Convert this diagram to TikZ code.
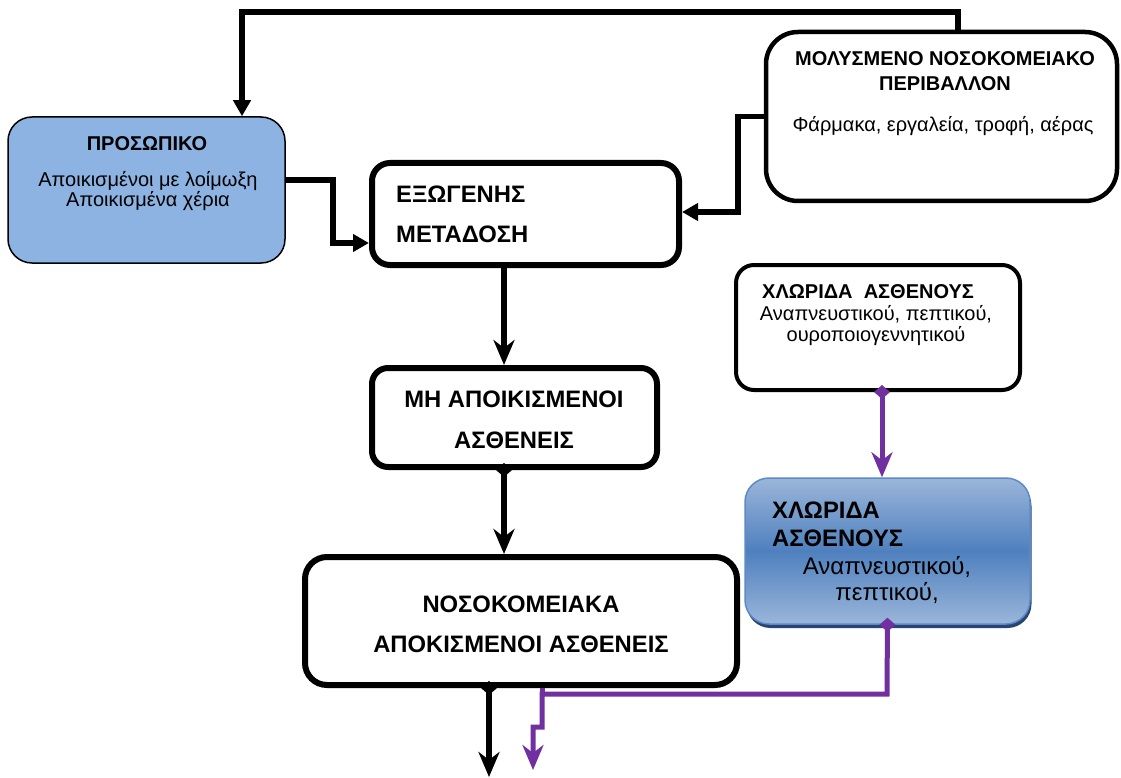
\documentclass[tikz,border=0pt]{standalone}
\usepackage{fontspec}
\setmainfont{Liberation Sans}
\usetikzlibrary{arrows.meta,shadows,calc}
\definecolor{purp}{HTML}{7030A0}
\definecolor{prosblue}{HTML}{8DB3E2}
\definecolor{gradlight}{HTML}{9AB6DA}
\definecolor{graddark}{HTML}{4F80BE}
\definecolor{gradborder}{HTML}{5B8AC6}
\definecolor{shadowblue}{HTML}{2A4670}
\begin{document}
\begin{tikzpicture}[x=1pt,y=-1pt,
  box/.style={draw=black, inner sep=0pt, fill=white},
  txt/.style={inner sep=0pt, anchor=base},
  txtl/.style={inner sep=0pt, anchor=base west},
  bigb/.style={font=\fontsize{23.8}{28}\selectfont\bfseries},
  midb/.style={font=\fontsize{20}{24}\selectfont\bfseries},
  body/.style={font=\fontsize{20}{24}\selectfont},
  bodyl/.style={font=\fontsize{24}{28}\selectfont},
  blk/.style={draw=black, line width=5.5pt},
  prp/.style={draw=purp, line width=5pt},
  downtip/.tip={Stealth[length=25pt,width=21pt,inset=8pt]},
  sidetip/.tip={Triangle[length=16pt,width=17pt]},
  dia/.tip={Diamond[length=14pt,width=16pt]}
]
\useasboundingbox (0,0) rectangle (1121,778);

% boxes
\node[box, line width=1.5pt, fill=prosblue, rounded corners=24pt,
  minimum width=277pt, minimum height=146pt] (pros) at (146.5,190) {};
\node[box, line width=6pt, rounded corners=18pt,
  minimum width=307pt, minimum height=102pt] (exo) at (525.5,214) {};
\node[box, line width=4.5pt, rounded corners=32pt,
  minimum width=351pt, minimum height=169pt] (mol) at (941.5,116.5) {};
\node[box, line width=6pt, rounded corners=16pt,
  minimum width=285pt, minimum height=99pt] (mh) at (514.5,417.5) {};
\node[box, line width=4pt, rounded corners=18pt,
  minimum width=284pt, minimum height=125pt] (chla) at (878,327.5) {};
\node[draw=gradborder, line width=1.5pt, inner sep=0pt, rounded corners=24pt,
  top color=gradlight, bottom color=gradlight, middle color=graddark,
  drop shadow={shadow xshift=1.5pt, shadow yshift=-4pt, fill=shadowblue, opacity=1},
  minimum width=285pt, minimum height=146pt] (chlb) at (887.5,551) {};
\node[box, line width=6pt, rounded corners=22pt,
  minimum width=432pt, minimum height=128pt] (noso) at (521,621) {};

% texts
\node[txt, midb] (prost) at (147,151) {ΠΡΟΣΩΠΙΚΟ};
\node[txt, body] (prosa) at (148,187) {Αποικισμένοι με λοίμωξη};
\node[txt, body] (prosb) at (148,207) {Αποικισμένα χέρια};

\node[txtl, bigb] (exoa) at (396,202) {ΕΞΩΓΕΝΗΣ};
\node[txtl, bigb] (exob) at (396,242) {ΜΕΤΑΔΟΣΗ};

\node[txt, midb] (mola) at (945,66) {ΜΟΛΥΣΜΕΝΟ ΝΟΣΟΚΟΜΕΙΑΚΟ};
\node[txt, midb] (molb) at (945,91) {ΠΕΡΙΒΑΛΛΟΝ};
\node[txt, body] (molc) at (943,132) {Φάρμακα, εργαλεία, τροφή, αέρας};

\node[txt, bigb] (mha) at (514,407) {ΜΗ ΑΠΟΙΚΙΣΜΕΝΟΙ};
\node[txt, bigb] (mhb) at (514,448) {ΑΣΘΕΝΕΙΣ};

\node[txtl, midb] (chlaa) at (762,298) {ΧΛΩΡΙΔΑ\ \ ΑΣΘΕΝΟΥΣ};
\node[txt, body] (chlab) at (876,320) {Αναπνευστικού, πεπτικού,};
\node[txt, body] (chlac) at (876,341) {ουροποιογεννητικού};

\node[txtl, bigb] (chlba) at (772,518) {ΧΛΩΡΙΔΑ};
\node[txtl, bigb] (chlbb) at (772,546) {ΑΣΘΕΝΟΥΣ};
\node[txt, bodyl] (chlbc) at (887,574) {Αναπνευστικού,};
\node[txt, bodyl] (chlbd) at (887,600) {πεπτικού,};

\node[txt, bigb] (nosoa) at (521,612) {ΝΟΣΟΚΟΜΕΙΑΚΑ};
\node[txt, bigb] (nosob) at (521,652) {ΑΠΟΚΙΣΜΕΝΟΙ ΑΣΘΕΝΕΙΣ};

% helper coordinates
\coordinate (toploop) at (242,12);
\coordinate (jp) at (333,243);
\coordinate (jm) at (738,212);
\coordinate (vx) at (504,0);
\coordinate (nx) at (489,0);
\coordinate (cx) at (882,0);
\coordinate (bend) at (887,694);
\coordinate (stub) at (542,0);
\coordinate (jog) at (542,727);
\coordinate (jogb) at (533,727);
\coordinate (endb) at (489,777);
\coordinate (endp) at (533,770);

% black connectors
\draw[blk, -sidetip] ([xshift=16.5pt]mol.north) |- (toploop) -- (toploop |- pros.north);
\draw[blk, -sidetip] ([yshift=10pt]pros.east) -| (jp) -- (jp -| exo.west);
\draw[blk, -sidetip] (mol.west) -| (jm) -- (jm -| exo.east);
\draw[blk, -downtip] (vx |- exo.south) -- (vx |- mh.north);
\draw[blk, dia-downtip] ($(vx |- mh.south)+(0,-7)$) -- (vx |- noso.north);
\draw[blk, dia-downtip] ($(nx |- noso.south)+(0,-7)$) -- (endb);

% purple connectors
\draw[prp, dia-downtip] ($(cx |- chla.south)+(0,-7)$) -- (cx |- chlb.north);
\draw[prp, line cap=butt] (stub |- noso.south) -- (stub |- bend);
\draw[prp, dia-downtip] ($(chlb.south)+(0,-7)$) -- (bend) -- (bend -| stub) -- (jog) -- (jogb) -- (endp);
\end{tikzpicture}
\end{document}
